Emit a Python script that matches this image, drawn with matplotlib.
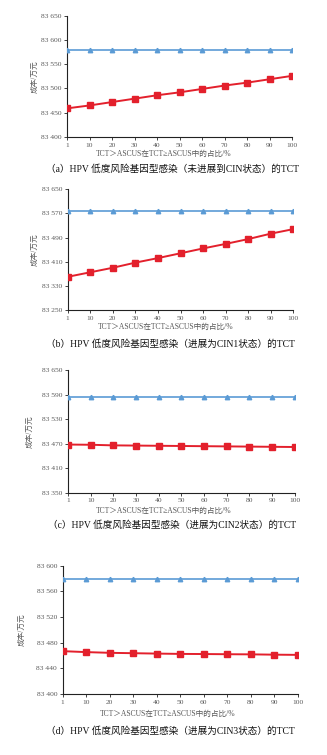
import matplotlib
matplotlib.use("Agg")
import matplotlib.pyplot as plt
import numpy as np

plt.rcParams['font.family'] = ['Liberation Serif', 'Noto Sans CJK SC', 'DejaVu Sans']

categories = ["1", "10", "20", "30", "40", "50", "60", "70", "80", "90", "100"]

blue_a = [83580] * 11
red_a = [83459, 83465, 83472, 83479, 83486, 83492, 83499, 83506, 83512, 83519, 83526]

blue_b = [83578] * 11
red_b = [83360, 83375, 83390, 83407, 83422, 83438, 83454, 83469, 83485, 83503, 83518]

blue_c = [83584] * 11
red_c = [83468, 83467.5, 83466, 83465.5, 83465, 83464.5, 83464, 83463.5, 83463, 83462.5, 83462]

blue_d = [83580] * 11
red_d = [83466.8, 83465.3, 83464.2, 83463.6, 83463, 83462.5, 83462.3, 83462, 83461.8, 83461.3, 83461]

yticks_a = [83400, 83450, 83500, 83550, 83600, 83650]
yticks_b = [83250, 83330, 83410, 83490, 83570, 83650]
yticks_c = [83350, 83410, 83470, 83530, 83590, 83650]
yticks_d = [83400, 83440, 83480, 83520, 83560, 83600]

xlabel = "TCT＞ASCUS在TCT≥ASCUS中的占比/%"
ylabel = "成本/万元"
captions = [
    "（a）HPV 低度风险基因型感染（未进展到CIN状态）的TCT",
    "（b）HPV 低度风险基因型感染（进展为CIN1状态）的TCT",
    "（c）HPV 低度风险基因型感染（进展为CIN2状态）的TCT",
    "（d）HPV 低度风险基因型感染（进展为CIN3状态）的TCT",
]

W, H = 327, 755
fig = plt.figure(figsize=(W / 100, H / 100), dpi=100)
fig.patch.set_facecolor("white")

panels = [
    # axes box (l, r, t, b), ylabel x, xlabel (x, y), caption (x, y)
    (blue_a, red_a, yticks_a, captions[0], (67, 292, 15.7, 137), 35, (164, 154), (172, 169)),
    (blue_b, red_b, yticks_b, captions[1], (67.7, 293.3, 189.3, 310), 35, (166, 327), (170, 344)),
    (blue_c, red_c, yticks_c, captions[2], (68, 294.7, 370.3, 492.7), 30, (164, 511), (172, 525)),
    (blue_d, red_d, yticks_d, captions[3], (62.7, 297.7, 565.7, 694), 22, (168, 714), (170, 731)),
]

grey = "#595959"
for blue, red, yt, cap, (l, r, t, b), ylx, (xlx, xly), (capx, capy) in panels:
    ax = fig.add_axes([l / W, 1 - b / H, (r - l) / W, (b - t) / H])
    x = np.arange(len(categories))
    ax.plot(x, blue, color="#5b9bd5", lw=1.2, marker="^", ms=3.2, zorder=3)
    ax.plot(x, red, color="#e3202c", lw=1.4, marker="s", ms=4, zorder=3)
    ax.set_xlim(0, len(categories) - 1)
    ax.set_ylim(yt[0], yt[-1])
    ax.set_yticks(yt)
    ax.set_yticklabels([f"{v // 1000} {v % 1000:03d}" for v in yt])
    ax.set_xticks(x)
    ax.set_xticklabels(categories)
    for s in ["top", "right"]:
        ax.spines[s].set_visible(False)
    for s in ["left", "bottom"]:
        ax.spines[s].set_color("#222222")
        ax.spines[s].set_linewidth(0.8)
    ax.tick_params(axis="both", labelsize=5.4, colors="#222222", labelcolor=grey,
                   length=2, width=0.6, pad=2)
    fig.text(ylx / W, 1 - (t + b) / 2 / H, ylabel, rotation=90, ha="center", va="center",
             fontsize=5.5, color=grey)
    fig.text(xlx / W, 1 - xly / H, xlabel, ha="center", va="center",
             fontsize=5.5, color=grey)
    fig.text(capx / W, 1 - capy / H, cap, ha="center", va="center",
             fontsize=6.9, color="#111111")

fig.savefig("out.png", dpi=100, facecolor="white")
